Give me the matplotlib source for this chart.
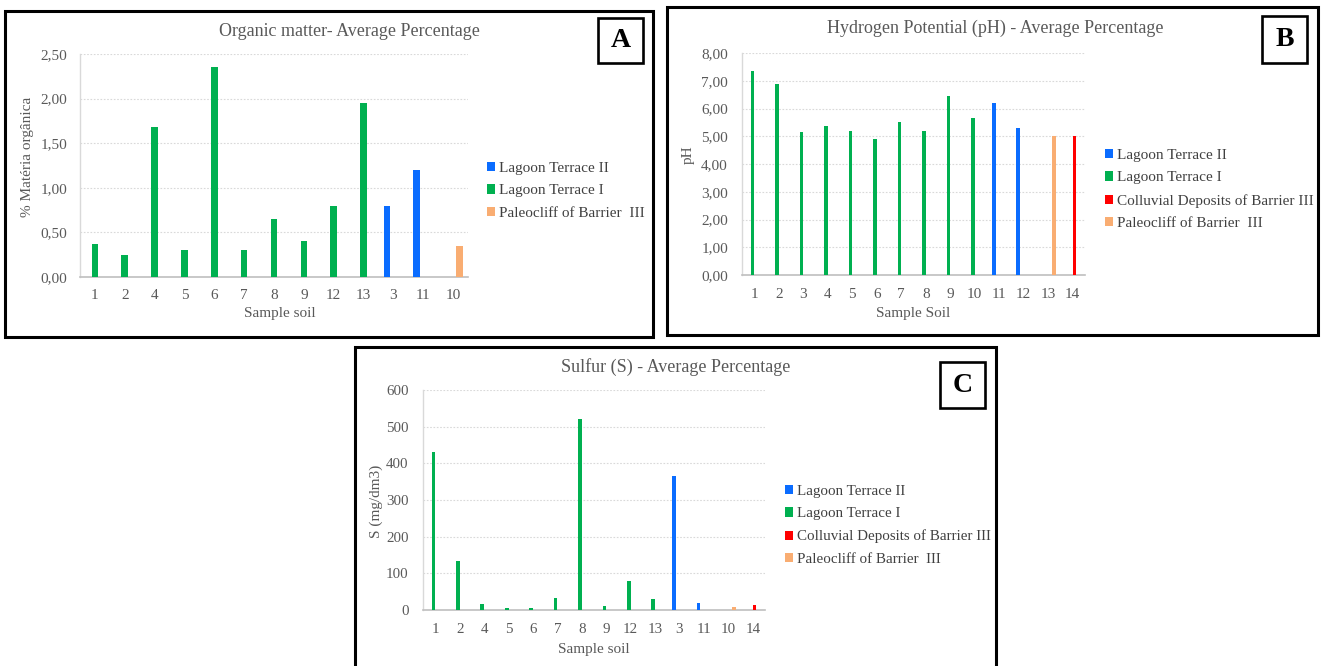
import matplotlib
matplotlib.use('Agg')
import matplotlib.pyplot as plt
from matplotlib.patches import Rectangle, Patch
from matplotlib.ticker import FuncFormatter, MultipleLocator

plt.rcParams['font.family'] = ['Liberation Serif', 'DejaVu Serif']

W, H = 1321, 666

# ---------------- data ----------------
series_names = ['Lagoon Terrace II', 'Lagoon Terrace I',
                'Colluvial Deposits of Barrier III', 'Paleocliff of Barrier  III']
series_colors = ['#0A6CFF', '#00B050', '#FF0000', '#F9AD72']

# Panel A - Organic matter
a_samples = ['1', '2', '4', '5', '6', '7', '8', '9', '12', '13', '3', '11', '10']
a_values = [0.37, 0.25, 1.68, 0.30, 2.35, 0.30, 0.65, 0.40, 0.80, 1.95, 0.80, 1.20, 0.35]
a_groups = [1, 1, 1, 1, 1, 1, 1, 1, 1, 1, 0, 0, 3]
a_series = [0, 1, 3]

# Panel B - pH
b_samples = ['1', '2', '3', '4', '5', '6', '7', '8', '9', '10', '11', '12', '13', '14']
b_values = [7.35, 6.90, 5.14, 5.36, 5.20, 4.90, 5.50, 5.20, 6.45, 5.66, 6.20, 5.30, 5.00, 5.00]
b_groups = [1, 1, 1, 1, 1, 1, 1, 1, 1, 1, 0, 0, 3, 2]
b_series = [0, 1, 2, 3]

# Panel C - Sulfur
c_samples = ['1', '2', '4', '5', '6', '7', '8', '9', '12', '13', '3', '11', '10', '14']
c_values = [430, 135, 16, 5, 5, 33, 522, 12, 79, 30, 365, 19, 8, 14]
c_groups = [1, 1, 1, 1, 1, 1, 1, 1, 1, 1, 0, 0, 3, 2]
c_series = [0, 1, 2, 3]

TXT = '#595959'
LEG = '#404040'

fig = plt.figure(figsize=(W / 100, H / 100), dpi=100)
fig.patch.set_facecolor('white')


def frac_rect(x0, y0, x1, y1):
    return [x0 / W, 1 - y1 / H, (x1 - x0) / W, (y1 - y0) / H]


def border(x0, y0, x1, y1, lw=2.2, z=1):
    r = Rectangle((x0 / W, 1 - y1 / H), (x1 - x0) / W, (y1 - y0) / H,
                  transform=fig.transFigure, fill=False, ec='black', lw=lw, zorder=z)
    fig.patches.append(r)


def letter_box(x0, y0, x1, y1, letter):
    r = Rectangle((x0 / W, 1 - y1 / H), (x1 - x0) / W, (y1 - y0) / H,
                  transform=fig.transFigure, fc='white', ec='black', lw=1.9, zorder=5)
    fig.patches.append(r)
    fig.text((x0 + x1) / 2 / W, 1 - (y0 + y1) / 2 / H, letter, ha='center', va='center',
             fontsize=20, fontweight='bold', color='black', zorder=6)


def panel(rect, samples, values, groups, series, width, ymax, ystep, fmt,
          title, title_xy, ylabel, ylabel_xy, xlabel, xlabel_xy, leg_xy,
          ypad, xpad, tick_fs=11, leg_fs=11):
    ax = fig.add_axes(frac_rect(*rect))
    n = len(series)
    for i, (v, g) in enumerate(zip(values, groups)):
        k = series.index(g)
        off = (k - (n - 1) / 2) * width
        ax.bar(i + off, v, width=width, color=series_colors[g], zorder=3)
    ax.set_xlim(-0.5, len(samples) - 0.5)
    ax.set_ylim(0, ymax)
    ax.set_xticks(range(len(samples)))
    ax.set_xticklabels(samples)
    ax.yaxis.set_major_locator(MultipleLocator(ystep))
    ax.yaxis.set_major_formatter(FuncFormatter(fmt))
    ax.tick_params(axis='both', length=0, labelsize=tick_fs, colors=TXT)
    ax.tick_params(axis='y', pad=ypad)
    ax.tick_params(axis='x', pad=xpad)
    ax.grid(axis='y', color='#D9D9D9', lw=0.8, ls=(0, (1.5, 1.5)), zorder=0)
    ax.set_axisbelow(True)
    for s in ['top', 'right']:
        ax.spines[s].set_visible(False)
    ax.spines['left'].set_color('#D9D9D9')
    ax.spines['bottom'].set_color('#BFBFBF')
    ax.spines['left'].set_linewidth(1.0)
    ax.spines['bottom'].set_linewidth(1.2)
    ax.set_facecolor('none')
    fig.text(title_xy[0] / W, 1 - title_xy[1] / H, title, ha='center', va='center',
             fontsize=13, color=TXT)
    fig.text(ylabel_xy[0] / W, 1 - ylabel_xy[1] / H, ylabel, ha='center', va='center',
             rotation=90, fontsize=11, color=TXT)
    fig.text(xlabel_xy[0] / W, 1 - xlabel_xy[1] / H, xlabel, ha='center', va='center',
             fontsize=11, color=TXT)
    handles = [Patch(facecolor=series_colors[s], edgecolor='none') for s in series]
    labels = [series_names[s] for s in series]
    leg = ax.legend(handles, labels, loc='upper left',
                    bbox_to_anchor=(leg_xy[0] / W, 1 - leg_xy[1] / H),
                    bbox_transform=fig.transFigure, frameon=False, borderpad=0,
                    borderaxespad=0, handlelength=0.55, handleheight=0.55,
                    handletextpad=0.25, labelspacing=0.62, fontsize=leg_fs)
    for t in leg.get_texts():
        t.set_color(LEG)
    return ax


comma2 = lambda v, p: ('%.2f' % v).replace('.', ',')
intfmt = lambda v, p: '%d' % v

# borders
border(5, 11, 653, 337)
border(667, 7, 1318, 335)
border(355, 347, 996, 690)

panel((80, 54, 468, 277), a_samples, a_values, a_groups, a_series, 0.22, 2.5, 0.5, comma2,
      'Organic matter- Average Percentage', (349, 31),
      '% Matéria orgânica', (27, 157), 'Sample soil', (280, 314), (487, 162),
      ypad=9.1, xpad=8.5)

panel((742, 53, 1085, 275), b_samples, b_values, b_groups, b_series, 0.15, 8, 1, comma2,
      'Hydrogen Potential (pH) - Average Percentage', (995, 28),
      'pH', (688, 155), 'Sample Soil', (913, 314), (1105, 149),
      ypad=10.1, xpad=9.5)

panel((423, 390, 765, 610), c_samples, c_values, c_groups, c_series, 0.15, 600, 100, intfmt,
      'Sulfur (S) - Average Percentage', (676, 367),
      'S (mg/dm3)', (376, 501), 'Sample soil', (594, 649), (785, 485),
      ypad=10.5, xpad=9.5, tick_fs=10.8, leg_fs=10.8)

letter_box(598, 18, 643, 63, 'A')
letter_box(1262, 16, 1307, 63, 'B')
letter_box(940, 362, 985, 408, 'C')

fig.savefig('out.png', dpi=100, facecolor='white')
